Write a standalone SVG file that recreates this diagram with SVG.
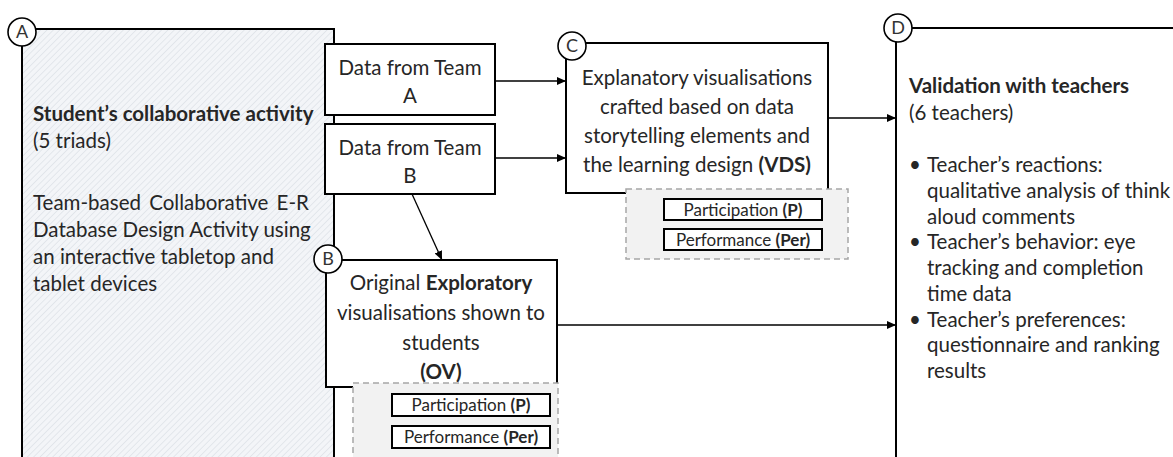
<svg xmlns="http://www.w3.org/2000/svg" width="1173" height="457" viewBox="0 0 1173 457">
  <style>
    .t { font-family: Lato, "Liberation Sans", sans-serif; font-size: 20.5px; fill: #262626; }
    .b { font-weight: bold; }
    .mid { text-anchor: middle; }
    .sm { font-size: 17px; }
    .box { fill: #ffffff; stroke: #000000; stroke-width: 2; }
    .dash { fill: #f2f2f2; stroke: #a6a6a6; stroke-width: 1.5; stroke-dasharray: 6 4; }
    .tag { fill: #ffffff; stroke: #000000; stroke-width: 1.6; }
    .tagtxt { font-family: Lato, "Liberation Sans", sans-serif; font-size: 18px; fill: #333333; text-anchor: middle; }
    .conn { stroke: #000000; stroke-width: 1.3; fill: none; marker-end: url(#arrow); }
  </style>
  <defs>
    <pattern id="hatch" width="4.5" height="4.5" patternUnits="userSpaceOnUse" patternTransform="rotate(45)">
      <rect width="4.5" height="4.5" fill="#f3f5f8"/>
      <line x1="0" y1="0" x2="0" y2="4.5" stroke="#d9dee4" stroke-width="1.2"/>
    </pattern>
    <marker id="arrow" markerWidth="9" markerHeight="8" refX="9" refY="4" orient="auto" markerUnits="userSpaceOnUse">
      <path d="M0,0 L9,4 L0,8 z" fill="#000000"/>
    </marker>
  </defs>

  <rect width="1173" height="457" fill="#ffffff"/>

  <!-- A: student activity -->
  <g id="node-a">
    <rect x="22" y="29" width="312" height="450" fill="url(#hatch)" stroke="#000000" stroke-width="2"/>
    <text class="t b" x="33" y="121">Student’s collaborative activity</text>
    <text class="t" x="33" y="148">(5 triads)</text>
    <text class="t" x="33" y="210" word-spacing="3">Team-based Collaborative E-R</text>
    <text class="t" x="33" y="237">Database Design Activity using</text>
    <text class="t" x="33" y="264">an interactive tabletop and</text>
    <text class="t" x="33" y="291">tablet devices</text>
  </g>

  <!-- D: validation with teachers -->
  <g id="node-d">
    <rect x="896" y="28" width="300" height="450" class="box"/>
    <text class="t b" x="909" y="93">Validation with teachers</text>
    <text class="t" x="909" y="120">(6 teachers)</text>
    <text class="t" x="909" y="172">•</text>
    <text class="t" x="927" y="172">Teacher’s reactions:</text>
    <text class="t" x="927" y="198">qualitative analysis of think</text>
    <text class="t" x="927" y="224">aloud comments</text>
    <text class="t" x="909" y="249">•</text>
    <text class="t" x="927" y="249">Teacher’s behavior: eye</text>
    <text class="t" x="927" y="275">tracking and completion</text>
    <text class="t" x="927" y="301">time data</text>
    <text class="t" x="909" y="327">•</text>
    <text class="t" x="927" y="327">Teacher’s preferences:</text>
    <text class="t" x="927" y="352">questionnaire and ranking</text>
    <text class="t" x="927" y="378">results</text>
  </g>

  <!-- Team data inputs -->
  <g id="team-a">
    <rect x="325" y="44" width="170" height="71" class="box"/>
    <text class="t mid" x="410" y="75">Data from Team</text>
    <text class="t mid" x="410" y="103">A</text>
  </g>
  <g id="team-b">
    <rect x="325" y="124" width="170" height="70" class="box"/>
    <text class="t mid" x="410" y="155">Data from Team</text>
    <text class="t mid" x="410" y="183">B</text>
  </g>

  <!-- C: explanatory visualisations -->
  <g id="node-c">
    <rect x="566" y="43" width="262" height="150" class="box"/>
    <text class="t mid" x="697" y="85">Explanatory visualisations</text>
    <text class="t mid" x="697" y="114">crafted based on data</text>
    <text class="t mid" x="697" y="143">storytelling elements and</text>
    <text class="t mid" x="697" y="172">the learning design <tspan class="b">(VDS)</tspan></text>
    <rect x="626" y="189" width="222" height="70" class="dash"/>
    <rect x="664" y="199" width="158" height="21" class="box"/>
    <text class="t sm mid" x="743" y="216">Participation <tspan class="b">(P)</tspan></text>
    <rect x="664" y="229" width="158" height="21" class="box"/>
    <text class="t sm mid" x="743" y="246">Performance <tspan class="b">(Per)</tspan></text>
  </g>

  <!-- B: original exploratory visualisations -->
  <g id="node-b">
    <rect x="326" y="260" width="231" height="127" class="box"/>
    <text class="t mid" x="441" y="290">Original <tspan class="b">Exploratory</tspan></text>
    <text class="t mid" x="441" y="320">visualisations shown to</text>
    <text class="t mid" x="441" y="350">students</text>
    <text class="t b mid" x="441" y="379">(OV)</text>
    <rect x="353" y="383" width="205" height="90" class="dash"/>
    <rect x="392" y="394" width="158" height="22" class="box"/>
    <text class="t sm mid" x="471" y="411">Participation <tspan class="b">(P)</tspan></text>
    <rect x="392" y="426" width="158" height="22" class="box"/>
    <text class="t sm mid" x="471" y="443">Performance <tspan class="b">(Per)</tspan></text>
  </g>

  <!-- connectors -->
  <g id="connectors">
    <line class="conn" x1="495" y1="81" x2="566" y2="81"/>
    <line class="conn" x1="495" y1="158" x2="566" y2="158"/>
    <line class="conn" x1="412" y1="194" x2="442" y2="260"/>
    <line class="conn" x1="828" y1="118" x2="896" y2="118"/>
    <line class="conn" x1="557" y1="325" x2="896" y2="325"/>
  </g>

  <!-- step labels -->
  <g id="label-a"><circle cx="22" cy="32" r="14" class="tag"/><text class="tagtxt" x="22" y="38">A</text></g>
  <g id="label-b"><circle cx="328" cy="259" r="14" class="tag"/><text class="tagtxt" x="328" y="265">B</text></g>
  <g id="label-c"><circle cx="572" cy="46" r="14" class="tag"/><text class="tagtxt" x="572" y="52">C</text></g>
  <g id="label-d"><circle cx="898" cy="28" r="14" class="tag"/><text class="tagtxt" x="898" y="34">D</text></g>
</svg>
